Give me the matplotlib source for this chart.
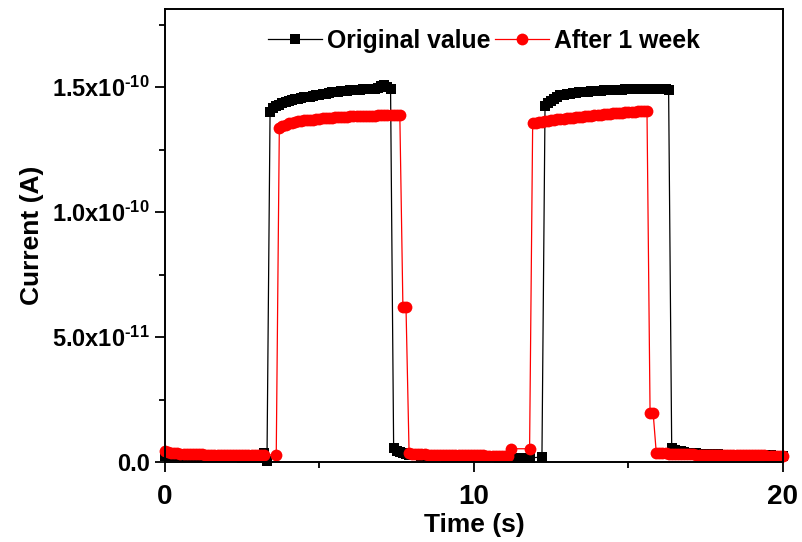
import numpy as np
import matplotlib
matplotlib.use("Agg")
import matplotlib.pyplot as plt
from matplotlib.ticker import MultipleLocator, FixedLocator, FixedFormatter

plt.rcParams['font.family'] = ['Liberation Sans', 'DejaVu Sans']
plt.rcParams['font.weight'] = 'bold'
plt.rcParams['mathtext.fontset'] = 'custom'
plt.rcParams['mathtext.rm'] = 'Liberation Sans:bold'
plt.rcParams['mathtext.bf'] = 'Liberation Sans:bold'
plt.rcParams['mathtext.it'] = 'Liberation Sans:bold'
plt.rcParams['mathtext.default'] = 'rm'

nan = np.nan

# Sampling grid (s), 0.1 s step
time_s = np.round(np.arange(201) * 0.1, 1)

# Original value, current in pA (1e-12 A)
original_pA = [
    2.6, 2.5, 2.4, 2.4, 2.3, 2.3, 2.2, 2.2, 2.2, 2.1,
    2.1, 2.1, 2.1, 2.0, 2.0, 2.0, 2.0, 2.0, 1.9, 1.9,
    1.9, 1.9, 1.9, 1.9, 1.9, 1.8, 1.8, 1.8, 1.8, 1.8,
    1.8, 1.8, 3.5, 0.3, 140.0, 141.5, 142.5, 143.0, 143.5, 144.0,
    144.5, 145.0, 145.2, 145.5, 145.8, 146.0, 146.0, 146.3, 146.5, 146.8,
    147.0, 147.3, 147.5, 147.8, 148.0, 148.0, 148.3, 148.5, 148.5, 148.7,
    148.8, 149.0, 149.0, 149.0, 149.2, 149.3, 149.3, 149.5, 149.5, 149.8,
    150.5, 150.8, 150.2, 149.5, 5.6, 4.6, 3.9, 3.5, 3.2, 3.0,
    2.9, 2.8, 2.7, 2.6, 2.5, 2.5, 2.4, 2.4, 2.3, 2.3,
    2.3, 2.2, 2.2, 2.2, 2.1, 2.1, 2.1, 2.1, 2.0, 2.0,
    2.0, 2.0, 2.0, 1.9, 1.9, 1.9, 1.9, 1.9, 1.8, 1.8,
    1.8, 1.8, 1.8, 1.6, 1.5, 1.5, 1.5, 1.6, 1.6, nan,
    nan, nan, 2.0, 142.5, 143.5, 144.5, 145.5, 146.2, 146.8, 147.0,
    147.3, 147.5, 147.7, 147.8, 148.0, 148.0, 148.2, 148.3, 148.4, 148.5,
    148.6, 148.7, 148.8, 148.8, 148.9, 149.0, 149.0, 149.1, 149.1, 149.2,
    149.2, 149.3, 149.3, 149.3, 149.4, 149.4, 149.4, 149.5, 149.5, 149.5,
    149.5, 149.4, 149.2, 148.8, 5.8, 5.0, 4.6, 4.3, 4.0, 3.8,
    3.7, 3.6, 3.5, 3.4, 3.3, 3.3, 3.2, 3.2, 3.1, 3.1,
    3.0, 3.0, 3.0, 2.9, 2.9, 2.9, 2.9, 2.8, 2.8, 2.8,
    2.8, 2.8, 2.7, 2.7, 2.7, 2.7, 2.7, 2.6, 2.6, 2.6,
    2.6,
]

# After 1 week, current in pA (1e-12 A)
week_pA = [
    4.3, 4.0, 3.8, 3.6, 3.5, 3.4, 3.3, 3.3, 3.2, 3.2,
    3.1, 3.1, 3.1, 3.0, 3.0, 3.0, 3.0, 3.0, 2.9, 2.9,
    2.9, 2.9, 2.9, 2.9, 2.9, 2.8, 2.8, 2.8, 2.8, 2.8,
    2.8, 2.8, 2.8, nan, nan, nan, 2.8, 133.7, 134.5, 135.0,
    135.5, 135.8, 136.0, 136.3, 136.5, 136.7, 136.8, 137.0, 137.0, 137.2,
    137.3, 137.5, 137.6, 137.7, 137.8, 138.0, 138.0, 138.0, 138.1, 138.2,
    138.3, 138.3, 138.4, 138.4, 138.5, 138.5, 138.5, 138.6, 138.6, 138.7,
    138.7, 138.8, 138.8, 138.9, 138.9, 139.0, 139.0, 62.0, 62.0, 3.6,
    3.4, 3.3, 3.2, 3.1, 3.1, 3.0, 3.0, 2.9, 2.9, 2.9,
    2.9, 2.8, 2.8, 2.8, 2.8, 2.8, 2.7, 2.7, 2.7, 2.7,
    2.7, 2.7, 2.7, 2.7, 2.6, 2.6, 2.6, 2.6, 2.6, 2.6,
    2.6, 2.6, 5.3, nan, nan, nan, nan, nan, 5.3, 135.5,
    135.8, 136.0, 136.2, 136.4, 136.6, 136.8, 137.0, 137.1, 137.3, 137.4,
    137.5, 137.6, 137.8, 137.9, 138.0, 138.2, 138.4, 138.5, 138.6, 138.8,
    138.9, 139.0, 139.1, 139.2, 139.4, 139.5, 139.6, 139.7, 139.8, 139.9,
    140.0, 140.1, 140.2, 140.3, 140.4, 140.5, 140.6, 19.5, 19.5, 3.8,
    3.7, 3.6, 3.5, 3.4, 3.4, 3.3, 3.3, 3.2, 3.2, 3.1,
    3.1, 3.1, 3.0, 3.0, 3.0, 3.0, 2.9, 2.9, 2.9, 2.9,
    2.9, 2.8, 2.8, 2.8, 2.8, 2.8, 2.8, 2.7, 2.7, 2.7,
    2.7, 2.7, 2.7, 2.7, 2.7, 2.6, 2.6, 2.6, 2.6, 2.6,
    2.6,
]

series_labels = ['Original value', 'After 1 week']
ytick_values = [0.0, 5.0e-11, 1.0e-10, 1.5e-10]
ytick_labels = ['0.0', '5.0x10$^{\u201011}$', '1.0x10$^{\u201010}$', '1.5x10$^{\u201010}$']
xtick_values = [0, 10, 20]

fig = plt.figure(figsize=(8.03, 5.42), dpi=100)
ax = fig.add_axes([0.2055, 0.1476, 0.7695, 0.8366])

def plot_series(vals, color, marker, ms, label):
    v = np.array(vals, dtype=float) * 1e-12
    m = ~np.isnan(v)
    ax.plot(time_s[m], v[m], color=color, lw=0.9, marker=marker, ms=ms,
            markeredgewidth=0, label=label, clip_on=False)

plot_series(original_pA, 'black', 's', 7.0, series_labels[0])
plot_series(week_pA, '#ff0000', 'o', 8.5, series_labels[1])

ax.set_xlim(0, 20)
ax.set_ylim(0, 1.815e-10)
ax.xaxis.set_major_locator(FixedLocator(xtick_values))
ax.xaxis.set_minor_locator(MultipleLocator(5))
ax.yaxis.set_major_locator(FixedLocator(ytick_values))
ax.yaxis.set_major_formatter(FixedFormatter(ytick_labels))
ax.yaxis.set_minor_locator(MultipleLocator(2.5e-11))

ax.tick_params(which='both', direction='out', width=1.3, top=False, right=False)
ax.tick_params(which='major', length=7)
ax.tick_params(which='minor', length=4)
ax.tick_params(axis='x', labelsize=20, pad=9)
ax.tick_params(axis='y', labelsize=17, pad=4)
for sp in ax.spines.values():
    sp.set_linewidth(1.4)

ax.set_xlabel('Time (s)', fontsize=19, fontweight='bold', labelpad=2)
ax.set_ylabel('Current (A)', fontsize=19, fontweight='bold', labelpad=6)

ax.legend(loc='center', bbox_to_anchor=(0.516, 0.929), ncol=2, frameon=False,
          fontsize=17.8, handlelength=2.2, handletextpad=0.2, columnspacing=0.15,
          borderpad=0.1)

fig.savefig('out.png', dpi=100)
